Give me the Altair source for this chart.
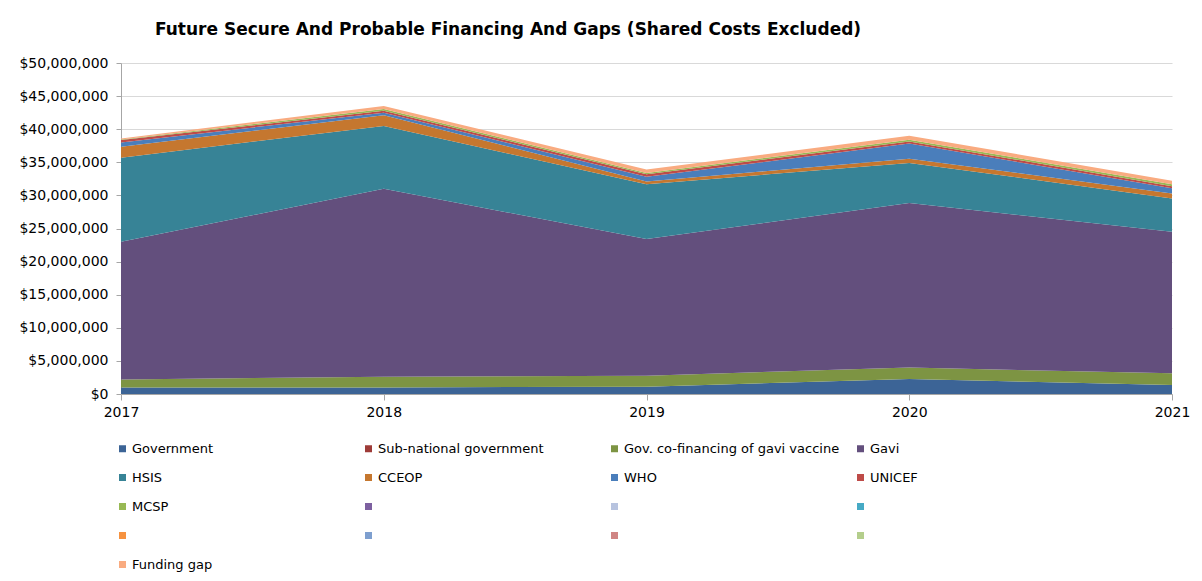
import altair as alt
import pandas as pd

years = [2017, 2018, 2019, 2020, 2021]

government = [1000000, 1000000, 1100000, 2270000, 1360000]
sub_national = [0, 0, 0, 0, 0]
co_financing = [1200000, 1600000, 1670000, 1730000, 1760000]
gavi = [20800000, 28400000, 20630000, 24850000, 21380000]
hsis = [12700000, 9500000, 8300000, 6050000, 5050000]
cceop = [1650000, 1600000, 400000, 650000, 750000]
who = [650000, 400000, 700000, 2300000, 770000]
unicef = [350000, 300000, 400000, 300000, 330000]
mcsp = [100000, 250000, 200000, 270000, 300000]
blank_series = [0, 0, 0, 0, 0]
funding_gap = [150000, 450000, 500000, 600000, 500000]

series_names = [
    "Government", "Sub-national government", "Gov. co-financing of gavi vaccine", "Gavi",
    "HSIS", "CCEOP", "WHO", "UNICEF",
    "MCSP", "blank1", "blank2", "blank3",
    "blank4", "blank5", "blank6", "blank7",
    "Funding gap",
]
series_values = [
    government, sub_national, co_financing, gavi,
    hsis, cceop, who, unicef,
    mcsp, blank_series, blank_series, blank_series,
    blank_series, blank_series, blank_series, blank_series,
    funding_gap,
]
series_colors = [
    "#3C6496", "#9E3B38", "#7D9443", "#634F7D",
    "#378396", "#C5772F", "#4A7EBB", "#BE4B48",
    "#98B954", "#7D60A0", "#B7C3DF", "#46AAC5",
    "#F69240", "#7E9FCF", "#D08584", "#B4CE8C",
    "#F9AB80",
]

rows = []
for idx, (name, vals) in enumerate(zip(series_names, series_values)):
    for yr, v in zip(years, vals):
        rows.append({"year": yr, "series": name, "value": v, "idx": idx})
df = pd.DataFrame(rows)

y_ticks = [0, 5000000, 10000000, 15000000, 20000000, 25000000,
           30000000, 35000000, 40000000, 45000000, 50000000]

FONT = "DejaVu Sans"

chart = alt.Chart(df).mark_area(interpolate="linear").encode(
    x=alt.X("year:Q",
            scale=alt.Scale(domain=[2017, 2021], nice=False, zero=False),
            axis=alt.Axis(values=years, format="d", title=None, grid=False,
                          labelFontSize=14, labelFont=FONT, labelColor="#000000",
                          tickSize=6, tickColor="#A6A6A6", domainColor="#A6A6A6",
                          labelPadding=5, labelFlush=False)),
    y=alt.Y("value:Q", stack="zero",
            scale=alt.Scale(domain=[0, 50000000], nice=False),
            axis=alt.Axis(values=y_ticks, format="$,.0f", title=None,
                          grid=True, gridColor="#D9D9D9",
                          labelFontSize=14, labelFont=FONT, labelColor="#000000",
                          tickSize=5, tickColor="#A6A6A6", domainColor="#A6A6A6",
                          labelPadding=8)),
    color=alt.Color("series:N",
                    scale=alt.Scale(domain=series_names, range=series_colors),
                    sort=series_names,
                    legend=alt.Legend(
                        title=None, orient="none", legendX=-5, legendY=379,
                        direction="horizontal",
                        columns=4, gridAlign="all", columnPadding=14, rowPadding=15,
                        symbolType="square", symbolSize=49, symbolStrokeWidth=0,
                        labelOffset=3,
                        labelFontSize=13, labelFont=FONT, labelColor="#000000",
                        labelLimit=300,
                        labelExpr="indexof(datum.label, 'blank') == 0 ? '' : datum.label")),
    order=alt.Order("idx:Q", sort="ascending"),
).properties(
    width=1051,
    height=331,
    autosize=alt.AutoSizeParams(type="none"),
    padding={"left": 113, "top": 55, "right": 22, "bottom": 179},
    title=alt.TitleParams(
        "Future Secure And Probable Financing And Gaps (Shared Costs Excluded)",
        anchor="start", frame="group", dx=34, offset=17, fontSize=17, font=FONT,
        fontWeight="bold", color="#000000"),
).configure_view(strokeWidth=0)

chart.save("out.html", embed_options={"renderer": "svg", "actions": False})
